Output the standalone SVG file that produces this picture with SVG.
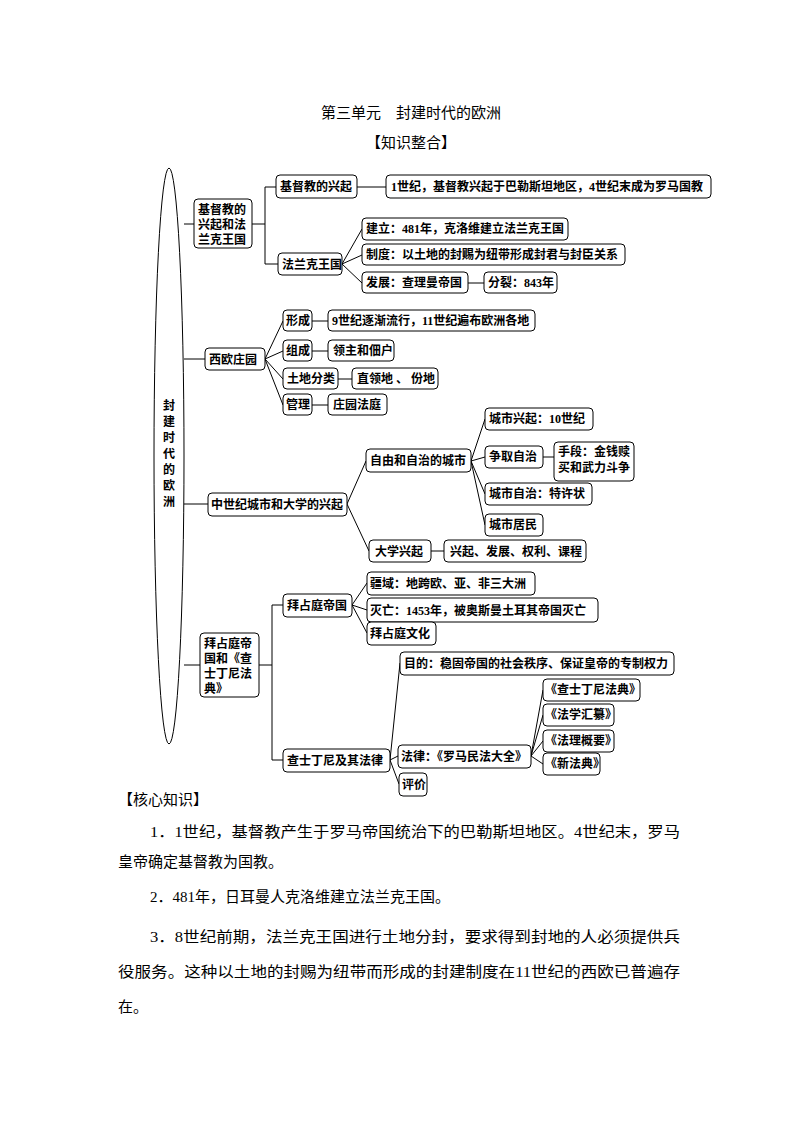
<svg xmlns="http://www.w3.org/2000/svg" width="794" height="1123" viewBox="0 0 794 1123">
<style>
rect{fill:#fff;stroke:#000;stroke-width:1}
text{font-family:"Liberation Serif","Noto Sans CJK SC",serif;font-size:12px;fill:#000}
.n{font-weight:bold}
.c line,.c polyline{stroke:#000;stroke-width:1;fill:none}
.b{font-size:15px;font-family:"Liberation Serif","Noto Sans CJK SC",serif}
</style>
<rect width="794" height="1123" style="stroke:none"/>
<text x="411" y="118" text-anchor="middle" style="font-size:15px">第三单元　封建时代的欧洲</text>
<text x="411" y="148" text-anchor="middle" style="font-size:15px">【知识整合】</text>
<g id="root"><ellipse cx="169" cy="456" rx="15" ry="288" fill="#fff" stroke="#000"/>
<text class="n" x="169" text-anchor="middle"><tspan x="169" y="410">封</tspan><tspan x="169" y="426">建</tspan><tspan x="169" y="442">时</tspan><tspan x="169" y="458">代</tspan><tspan x="169" y="474">的</tspan><tspan x="169" y="490">欧</tspan><tspan x="169" y="506">洲</tspan></text></g>
<g class="c" id="connectors">
<line x1="184" y1="224" x2="194" y2="224"/>
<line x1="184" y1="359" x2="205" y2="359"/>
<line x1="184" y1="504" x2="208" y2="504"/>
<line x1="184" y1="665" x2="200" y2="665"/>
<line x1="252" y1="224" x2="265" y2="224"/>
<polyline points="276,187 265,187 265,264 278,264"/>
<line x1="357" y1="187" x2="386" y2="187"/>
<line x1="342" y1="264" x2="362" y2="229"/><line x1="342" y1="264" x2="362" y2="255"/><line x1="342" y1="264" x2="362" y2="283"/>
<line x1="468" y1="283" x2="484" y2="283"/>
<line x1="265" y1="359" x2="283" y2="321"/><line x1="265" y1="359" x2="283" y2="351"/><line x1="265" y1="359" x2="283" y2="379"/><line x1="265" y1="359" x2="283" y2="405"/>
<line x1="312" y1="321" x2="328" y2="321"/><line x1="312" y1="351" x2="328" y2="351"/><line x1="338" y1="379" x2="352" y2="379"/><line x1="312" y1="405" x2="328" y2="405"/>
<line x1="347" y1="504" x2="366" y2="461"/><line x1="347" y1="504" x2="369" y2="551"/>
<line x1="471" y1="461" x2="485" y2="419"/><line x1="471" y1="461" x2="485" y2="457"/><line x1="471" y1="461" x2="485" y2="494"/><line x1="471" y1="461" x2="485" y2="525"/>
<line x1="543" y1="457" x2="554" y2="457"/>
<line x1="431" y1="551" x2="444" y2="551"/>
<line x1="259" y1="665" x2="272" y2="665"/>
<polyline points="283,605 272,605 272,760 283,760"/>
<line x1="352" y1="605" x2="367" y2="583"/><line x1="352" y1="605" x2="367" y2="610"/><line x1="352" y1="605" x2="367" y2="633"/>
<line x1="390" y1="760" x2="400" y2="663"/><line x1="390" y1="760" x2="398" y2="756"/><line x1="390" y1="760" x2="399" y2="784"/>
<line x1="531" y1="756" x2="543" y2="690"/><line x1="531" y1="756" x2="543" y2="715"/><line x1="531" y1="756" x2="543" y2="741"/><line x1="531" y1="756" x2="543" y2="764"/>
</g>
<g id="n1"><rect x="194" y="199" width="58" height="49" rx="4"/><text class="n"><tspan x="198" y="214">基督教的</tspan><tspan x="198" y="229">兴起和法</tspan><tspan x="198" y="244">兰克王国</tspan></text></g>
<g id="n2"><rect x="276" y="175" width="81" height="23" rx="4"/><text class="n" x="280" y="191">基督教的兴起</text></g>
<g id="n3"><rect x="386" y="175" width="325" height="23" rx="4"/><text class="n" x="391" y="191">1世纪，基督教兴起于巴勒斯坦地区，4世纪末成为罗马国教</text></g>
<g id="n4"><rect x="278" y="253" width="64" height="22" rx="4"/><text class="n" x="282" y="269">法兰克王国</text></g>
<g id="n5"><rect x="362" y="218" width="206" height="22" rx="4"/><text class="n" x="366" y="233">建立：481年，克洛维建立法兰克王国</text></g>
<g id="n6"><rect x="362" y="244" width="263" height="21" rx="4"/><text class="n" x="366" y="259">制度：以土地的封赐为纽带形成封君与封臣关系</text></g>
<g id="n7"><rect x="362" y="272" width="106" height="21" rx="4"/><text class="n" x="366" y="287">发展：查理曼帝国</text></g>
<g id="n8"><rect x="484" y="272" width="73" height="21" rx="4"/><text class="n" x="488" y="287">分裂：843年</text></g>
<g id="n9"><rect x="205" y="348" width="60" height="22" rx="4"/><text class="n" x="209" y="364">西欧庄园</text></g>
<g id="n10"><rect x="283" y="310" width="29" height="21" rx="4"/><text class="n" x="286" y="325">形成</text></g>
<g id="n11"><rect x="328" y="310" width="207" height="21" rx="4"/><text class="n" x="332" y="325">9世纪逐渐流行，11世纪遍布欧洲各地</text></g>
<g id="n12"><rect x="283" y="340" width="29" height="21" rx="4"/><text class="n" x="286" y="355">组成</text></g>
<g id="n13"><rect x="328" y="340" width="66" height="21" rx="4"/><text class="n" x="333" y="355">领主和佃户</text></g>
<g id="n14"><rect x="283" y="368" width="55" height="21" rx="4"/><text class="n" x="287" y="383">土地分类</text></g>
<g id="n15"><rect x="352" y="368" width="86" height="21" rx="4"/><text class="n" x="357" y="383">直领地 、 份地</text></g>
<g id="n16"><rect x="283" y="394" width="29" height="21" rx="4"/><text class="n" x="286" y="409">管理</text></g>
<g id="n17"><rect x="328" y="394" width="59" height="21" rx="4"/><text class="n" x="333" y="409">庄园法庭</text></g>
<g id="n18"><rect x="208" y="493" width="139" height="23" rx="4"/><text class="n" x="211" y="509">中世纪城市和大学的兴起</text></g>
<g id="n19"><rect x="366" y="449" width="105" height="23" rx="4"/><text class="n" x="370" y="465">自由和自治的城市</text></g>
<g id="n20"><rect x="485" y="408" width="108" height="22" rx="4"/><text class="n" x="489" y="423">城市兴起：10世纪</text></g>
<g id="n21"><rect x="485" y="446" width="58" height="22" rx="4"/><text class="n" x="489" y="461">争取自治</text></g>
<g id="n22"><rect x="554" y="442" width="80" height="39" rx="4"/><text class="n"><tspan x="558" y="456">手段：金钱赎</tspan><tspan x="558" y="472">买和武力斗争</tspan></text></g>
<g id="n23"><rect x="485" y="483" width="107" height="22" rx="4"/><text class="n" x="489" y="498">城市自治：特许状</text></g>
<g id="n24"><rect x="485" y="514" width="58" height="22" rx="4"/><text class="n" x="489" y="529">城市居民</text></g>
<g id="n25"><rect x="369" y="540" width="62" height="22" rx="4"/><text class="n" x="375" y="556">大学兴起</text></g>
<g id="n26"><rect x="444" y="540" width="142" height="22" rx="4"/><text class="n" x="450" y="556">兴起、发展、权利、课程</text></g>
<g id="n27"><rect x="200" y="633" width="59" height="64" rx="4"/><text class="n"><tspan x="204" y="648">拜占庭帝</tspan><tspan x="204" y="663">国和《查</tspan><tspan x="204" y="678">士丁尼法</tspan><tspan x="204" y="693">典》</tspan></text></g>
<g id="n28"><rect x="283" y="594" width="69" height="23" rx="4"/><text class="n" x="287" y="610">拜占庭帝国</text></g>
<g id="n29"><rect x="367" y="572" width="168" height="23" rx="4"/><text class="n" x="370" y="588">疆域：地跨欧、亚、非三大洲</text></g>
<g id="n30"><rect x="367" y="598" width="231" height="24" rx="4"/><text class="n" x="370" y="615">灭亡：1453年，被奥斯曼土耳其帝国灭亡</text></g>
<g id="n31"><rect x="367" y="622" width="69" height="23" rx="4"/><text class="n" x="370" y="638">拜占庭文化</text></g>
<g id="n32"><rect x="283" y="749" width="107" height="23" rx="4"/><text class="n" x="287" y="765">查士丁尼及其法律</text></g>
<g id="n33"><rect x="400" y="652" width="274" height="23" rx="4"/><text class="n" x="404" y="668">目的：稳固帝国的社会秩序、保证皇帝的专制权力</text></g>
<g id="n34"><rect x="398" y="745" width="133" height="23" rx="4"/><text class="n" x="401" y="761">法律：《罗马民法大全》</text></g>
<g id="n35"><rect x="399" y="773" width="28" height="23" rx="4"/><text class="n" x="402" y="789">评价</text></g>
<g id="n36"><rect x="543" y="679" width="97" height="22" rx="4"/><text class="n" x="545" y="694">《查士丁尼法典》</text></g>
<g id="n37"><rect x="543" y="704" width="71" height="22" rx="4"/><text class="n" x="545" y="719">《法学汇纂》</text></g>
<g id="n38"><rect x="543" y="730" width="71" height="22" rx="4"/><text class="n" x="545" y="745">《法理概要》</text></g>
<g id="n39"><rect x="543" y="753" width="57" height="22" rx="4"/><text class="n" x="545" y="768">《新法典》</text></g>
<text class="b" x="118" y="805">【核心知识】</text>
<text class="b" x="150" y="837" textLength="530" lengthAdjust="spacingAndGlyphs">1．1世纪，基督教产生于罗马帝国统治下的巴勒斯坦地区。4世纪末，罗马</text>
<text class="b" x="118" y="867">皇帝确定基督教为国教。</text>
<text class="b" x="150" y="902">2．481年，日耳曼人克洛维建立法兰克王国。</text>
<text class="b" x="150" y="942" textLength="530" lengthAdjust="spacingAndGlyphs">3．8世纪前期，法兰克王国进行土地分封，要求得到封地的人必须提供兵</text>
<text class="b" x="118" y="977" textLength="562" lengthAdjust="spacingAndGlyphs">役服务。这种以土地的封赐为纽带而形成的封建制度在11世纪的西欧已普遍存</text>
<text class="b" x="118" y="1012">在。</text>
</svg>
